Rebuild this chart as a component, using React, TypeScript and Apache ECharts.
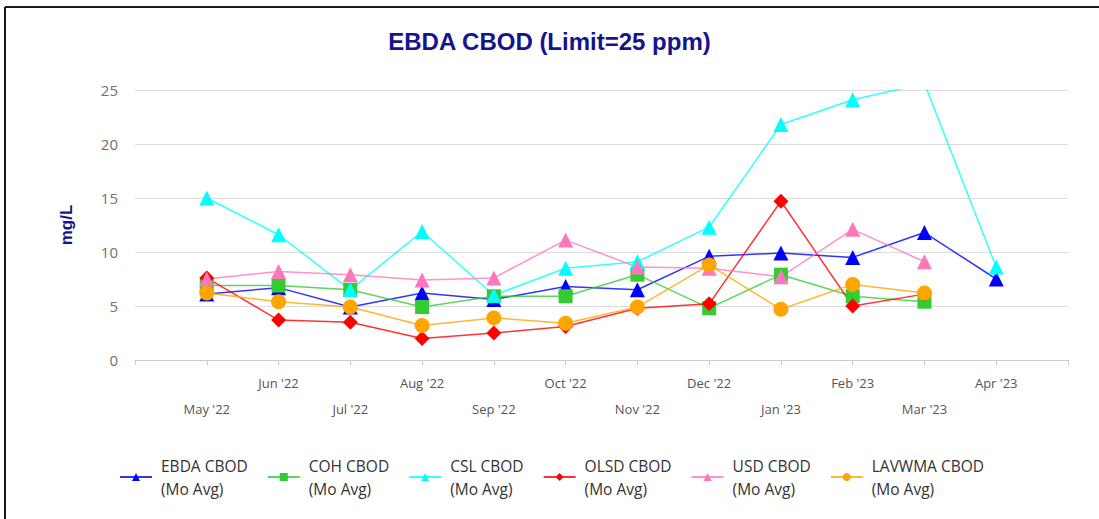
import React, { useEffect, useRef } from "react";
import * as echarts from "echarts";

const months = ["May '22", "Jun '22", "Jul '22", "Aug '22", "Sep '22", "Oct '22", "Nov '22", "Dec '22", "Jan '23", "Feb '23", "Mar '23", "Apr '23"];

const ebda = [6.1, 6.7, 4.9, 6.2, 5.6, 6.8, 6.5, 9.6, 9.9, 9.5, 11.8, 7.5];
const coh = [6.9, 6.9, 6.5, 4.9, 5.9, 5.9, 7.9, 4.8, 7.9, 5.9, 5.4, null];
const csl = [15.0, 11.6, 6.5, 11.9, 6.0, 8.5, 9.1, 12.3, 21.8, 24.1, 25.6, 8.6];
const olsd = [7.6, 3.7, 3.5, 2.0, 2.5, 3.1, 4.8, 5.2, 14.7, 5.0, 6.1, null];
const usd = [7.5, 8.2, 7.9, 7.4, 7.6, 11.1, 8.6, 8.5, 7.7, 12.1, 9.1, null];
const lavwma = [6.2, 5.4, 4.9, 3.2, 3.9, 3.4, 4.9, 8.8, 4.7, 7.0, 6.2, null];

const seriesDefs = [
  { name: "EBDA CBOD\n(Mo Avg)", data: ebda, color: "#0000ff", symbol: "triangle", size: 15 },
  { name: "COH CBOD\n(Mo Avg)", data: coh, color: "#33cc33", symbol: "rect", size: 14 },
  { name: "CSL CBOD\n(Mo Avg)", data: csl, color: "#00ffff", symbol: "triangle", size: 15 },
  { name: "OLSD CBOD\n(Mo Avg)", data: olsd, color: "#ff0000", symbol: "diamond", size: 15 },
  { name: "USD CBOD\n(Mo Avg)", data: usd, color: "#ff77bb", symbol: "triangle", size: 15 },
  { name: "LAVWMA CBOD\n(Mo Avg)", data: lavwma, color: "#ffa500", symbol: "circle", size: 15 },
];

export default function App() {
  const ref = useRef<HTMLDivElement>(null);
  useEffect(() => {
    if (!ref.current) return;
    const chart = echarts.init(ref.current, null, { renderer: "svg" });
    chart.setOption({
      animation: false,
      backgroundColor: "#ffffff",
      title: {
        text: "EBDA CBOD (Limit=25 ppm)",
        left: "center",
        top: 24,
        textStyle: { fontFamily: "Liberation Sans, Arial", fontSize: 24, fontWeight: "bold", color: "#14148c" },
      },
      graphic: [
        { type: "line", shape: { x1: 5, y1: 7, x2: 5, y2: 519 }, style: { stroke: "#1a1a1a", lineWidth: 2 } },
        { type: "line", shape: { x1: 5, y1: 7, x2: 1099, y2: 7 }, style: { stroke: "#1a1a1a", lineWidth: 2 } },
      ],
      grid: { left: 135, right: 31, top: 90, bottom: 159 },
      legend: {
        bottom: 14,
        left: 114,
        itemWidth: 32,
        itemHeight: 10,
        itemGap: 19,
        textStyle: { fontFamily: "Open Sans", fontSize: 15.5, color: "#333", lineHeight: 23, padding: [0, 0, 0, 4] },
        data: seriesDefs.map((s) => s.name),
      },
      xAxis: {
        type: "value",
        min: 0,
        max: 13,
        interval: 1,
        splitLine: { show: false },
        axisLine: { lineStyle: { color: "#cccccc" } },
        axisTick: { length: 5, lineStyle: { color: "#cccccc" } },
        axisLabel: {
          margin: 10,
          lineHeight: 26,
          fontFamily: "Open Sans",
          fontSize: 13,
          color: "#555",
          showMinLabel: true,
          showMaxLabel: true,
          formatter: (v: number) => {
            const i = Math.round(v) - 1;
            if (i < 0 || i >= months.length) return "";
            return i % 2 === 0 ? "\n" + months[i] : months[i];
          },
        },
      },
      yAxis: {
        type: "value",
        min: 0,
        max: 25,
        interval: 5,
        name: "mg/L",
        nameLocation: "middle",
        nameRotate: 90,
        nameGap: 60,
        nameTextStyle: { fontFamily: "Liberation Sans, Arial", fontSize: 17, fontWeight: "bold", color: "#14148c" },
        axisLine: { show: false },
        axisTick: { show: false },
        splitLine: { lineStyle: { color: "#dcdcdc", width: 1 } },
        axisLabel: { margin: 17, fontFamily: "Open Sans", fontSize: 15, color: "#707070" },
      },
      series: seriesDefs.map((s) => ({
        name: s.name,
        type: "line",
        symbol: s.symbol,
        symbolSize: s.size,
        clip: true,
        data: s.data.map((v, i) => [i + 1, v]),
        itemStyle: { color: s.color },
        lineStyle: { color: s.color, width: 1.5, opacity: 0.8 },
      })),
    });
    return () => chart.dispose();
  }, []);
  return <div ref={ref} style={{ position: "fixed", left: 0, top: 0, width: 1099, height: 519 }} />;
}
